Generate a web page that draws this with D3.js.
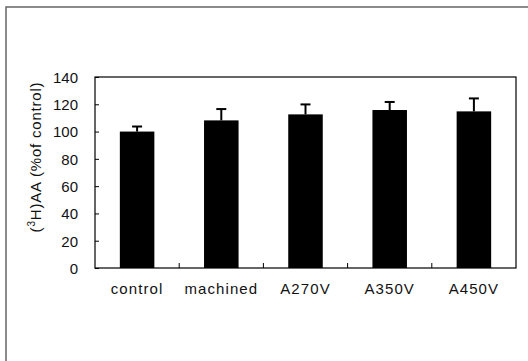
<!DOCTYPE html>
<html>
<head>
<meta charset="utf-8">
<script src="https://cdn.jsdelivr.net/npm/d3@7"></script>
<style>
  body { margin: 0; background: #fff; }
  text { font-family: Arial, "Liberation Sans", sans-serif; fill: #111; }
</style>
</head>
<body>
<svg id="chart" width="528" height="361"></svg>
<script>
const categories = ['control', 'machined', 'A270V', 'A350V', 'A450V'];
const means = [100, 108.2, 112.6, 115.8, 114.8];
const errors = [3.7, 8.3, 7.3, 5.9, 9.5];
const yTicks = [0, 20, 40, 60, 80, 100, 120, 140];

const width = 528, height = 361;
const margin = { top: 77, right: 12, bottom: 93, left: 95 };
const plotW = width - margin.left - margin.right;
const plotH = height - margin.top - margin.bottom;

const svg = d3.select('#chart');

// outer chart-area border (only left/top visible in the scan)
svg.append('rect')
    .attr('x', 6)
    .attr('y', 7)
    .attr('width', 540)
    .attr('height', 370)
    .attr('fill', 'none')
    .attr('stroke', '#666')
    .attr('stroke-width', 1.5);

const g = svg.append('g')
    .attr('transform', `translate(${margin.left},${margin.top})`);

const xScale = d3.scaleBand()
    .domain(categories)
    .range([0, plotW])
    .paddingInner(0.59)
    .paddingOuter(0.295);

const yScale = d3.scaleLinear()
    .domain([0, 140])
    .range([plotH, 0]);

// plot frame
g.append('rect')
    .attr('x', 0)
    .attr('y', 0)
    .attr('width', plotW)
    .attr('height', plotH)
    .attr('fill', 'none')
    .attr('stroke', '#000')
    .attr('stroke-width', 1.2);

// bars
g.selectAll('.bar')
    .data(categories)
  .enter().append('rect')
    .attr('class', 'bar')
    .attr('x', d => xScale(d))
    .attr('y', (d, i) => yScale(means[i]))
    .attr('width', xScale.bandwidth())
    .attr('height', (d, i) => plotH - yScale(means[i]))
    .attr('fill', '#000');

// error bars (upper only)
const errG = g.selectAll('.err')
    .data(categories)
  .enter().append('g')
    .attr('class', 'err')
    .attr('transform', d => `translate(${xScale(d) + xScale.bandwidth() / 2},0)`);

errG.append('line')
    .attr('x1', 0).attr('x2', 0)
    .attr('y1', (d, i) => yScale(means[i]))
    .attr('y2', (d, i) => yScale(means[i] + errors[i]))
    .attr('stroke', '#000')
    .attr('stroke-width', 2);

errG.append('line')
    .attr('x1', -5).attr('x2', 5)
    .attr('y1', (d, i) => yScale(means[i] + errors[i]))
    .attr('y2', (d, i) => yScale(means[i] + errors[i]))
    .attr('stroke', '#000')
    .attr('stroke-width', 2);

// y axis (ticks point inward)
const yAxis = g.append('g')
    .call(d3.axisLeft(yScale).tickValues(yTicks).tickSizeInner(-4).tickSizeOuter(0).tickPadding(17));
yAxis.select('.domain').remove();
yAxis.selectAll('text')
    .attr('font-size', '15px')
    .attr('dy', '0.36em');

// x axis: tick marks between categories, labels centred under bars
const bounds = categories.slice(1).map(d => xScale(d) - xScale.step() * xScale.paddingInner() / 2);
g.selectAll('.xtick')
    .data(bounds)
  .enter().append('line')
    .attr('class', 'xtick')
    .attr('x1', d => d).attr('x2', d => d)
    .attr('y1', plotH).attr('y2', plotH - 5)
    .attr('stroke', '#000')
    .attr('stroke-width', 1);

g.selectAll('.xlabel')
    .data(categories)
  .enter().append('text')
    .attr('class', 'xlabel')
    .attr('x', d => xScale(d) + xScale.bandwidth() / 2)
    .attr('y', plotH + 26)
    .attr('text-anchor', 'middle')
    .attr('font-size', '15px')
    .attr('letter-spacing', '1.1px')
    .text(d => d);

// y axis title
const title = svg.append('text')
    .attr('transform', `translate(41,157) rotate(-90)`)
    .attr('text-anchor', 'middle')
    .attr('font-size', '15px')
    .attr('letter-spacing', '0.8px');
title.append('tspan').text('(');
title.append('tspan').attr('font-size', '10px').attr('dy', '-6').text('3');
title.append('tspan').attr('dy', '6').text('H)AA (%of control)');
</script>
</body>
</html>
